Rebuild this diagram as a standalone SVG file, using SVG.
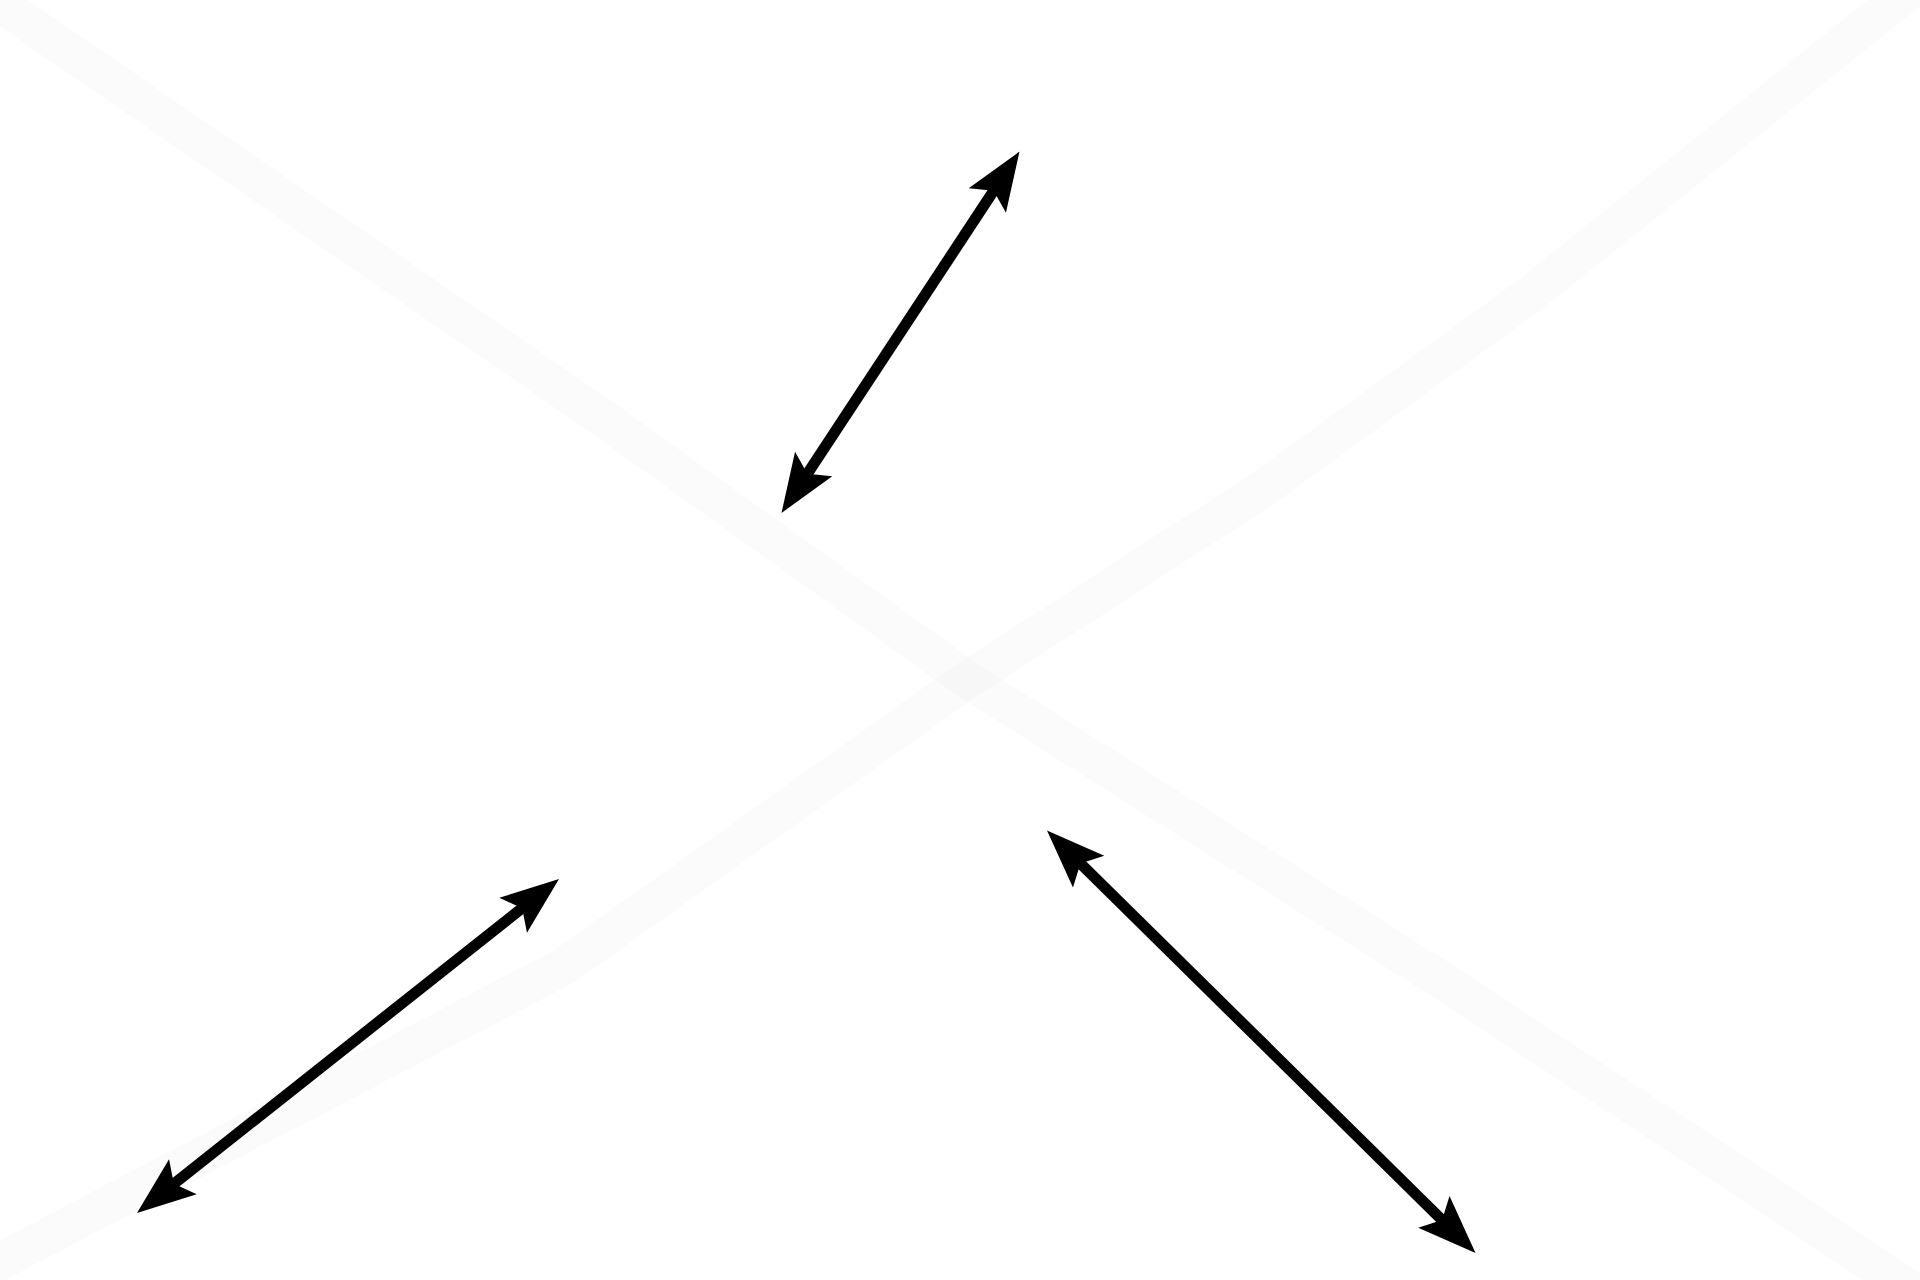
<svg xmlns="http://www.w3.org/2000/svg" width="1920" height="1280" viewBox="0 0 1920 1280">
  <style>
    .bg { fill: none; stroke: #000; stroke-opacity: 0.015; stroke-width: 38; stroke-linejoin: round; }
    .conn { fill: none; stroke: #000; stroke-width: 11; marker-start: url(#head); marker-end: url(#head); }
  </style>
  <defs>
    <marker id="head" markerUnits="userSpaceOnUse" orient="auto-start-reverse" refX="0" refY="0" markerWidth="120" markerHeight="120" viewBox="-60 -60 120 120" overflow="visible">
      <path d="M44,0 L-14.5,-22.3 L-3,0 L-14.5,22.3 Z" fill="#000"/>
    </marker>
  </defs>
  <rect width="1920" height="1280" fill="#fff"/>
  <g id="background">
    <polyline class="bg" points="-30,-17 600,416 968,680 1457,990 1935,1305"/>
    <polyline class="bg" points="-30,1277 563,967 967,680 1261,490 1531,294 1935,-30"/>
  </g>
  <g id="connectors">
    <line id="arrow-top" class="conn" x1="995.3" y1="188.3" x2="805.7" y2="476.2"/>
    <line id="arrow-left" class="conn" x1="524.5" y1="906.3" x2="171.5" y2="1185.7"/>
    <line id="arrow-right" class="conn" x1="1078.3" y1="861.4" x2="1444.2" y2="1222.1"/>
  </g>
</svg>
